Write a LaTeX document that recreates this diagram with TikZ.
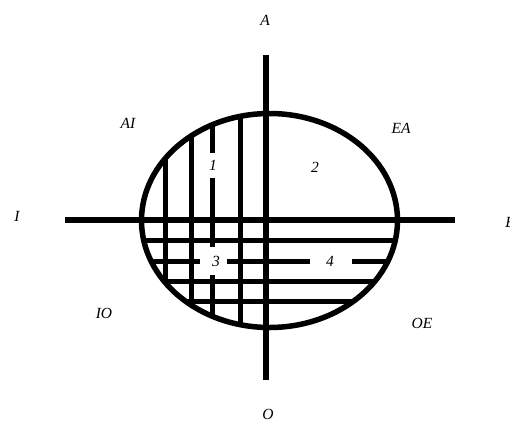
\documentclass[tikz,border=0pt]{standalone}
\usepackage{fontspec}
\setmainfont{Liberation Serif}
\begin{document}
\begin{tikzpicture}[x=1pt,y=-1pt,
  lbl/.style={font=\fontsize{15.5}{17}\selectfont\itshape, inner sep=0pt},
  thickline/.style={line width=5.5pt, black},
  hatch/.style={line width=5pt, black}]
\useasboundingbox (0,0) rectangle (510,423);
% hatch lines clipped to the ellipse
\begin{scope}
  \clip (269.5,220.5) ellipse [x radius=128, y radius=107];
  % vertical hatch
  \draw[hatch] (165,100) -- (165,340);
  \draw[hatch] (191,100) -- (191,340);
  \draw[hatch] (212,100) -- (212,153);
  \draw[hatch] (212,178) -- (212,247);
  \draw[hatch] (212,275) -- (212,340);
  \draw[hatch] (240,100) -- (240,340);
  % horizontal hatch
  \draw[hatch] (130,240) -- (410,240);
  \draw[hatch] (130,261) -- (200,261);
  \draw[hatch] (227,261) -- (310,261);
  \draw[hatch] (352,261) -- (410,261);
  \draw[hatch] (130,281) -- (410,281);
  \draw[hatch] (130,301) -- (410,301);
\end{scope}
% ellipse and axes
\draw[thickline] (269.5,220.5) ellipse [x radius=128, y radius=107];
\coordinate (top) at (266,55);
\coordinate (bot) at (266,380);
\coordinate (lft) at (65,220);
\coordinate (rgt) at (455,220);
\draw[thickline] (top) -- (bot);
\draw[thickline] (lft) -- (rgt);
% labels
\node[lbl] (A) at (265,20) {A};
\node[lbl] (EA) at (401,128) {EA};
\node[lbl] (AI) at (128,123) {AI};
\node[lbl] (I) at (17,216) {I};
\node[lbl] (E) at (510,222) {E};
\node[lbl] (IO) at (104,313) {IO};
\node[lbl] (OE) at (422,323) {OE};
\node[lbl] (O) at (268,414) {O};
\node[lbl] (n1) at (213,165) {1};
\node[lbl] (n2) at (315,167) {2};
\node[lbl] (n3) at (216,261) {3};
\node[lbl] (n4) at (330,261) {4};
\end{tikzpicture}
\end{document}
